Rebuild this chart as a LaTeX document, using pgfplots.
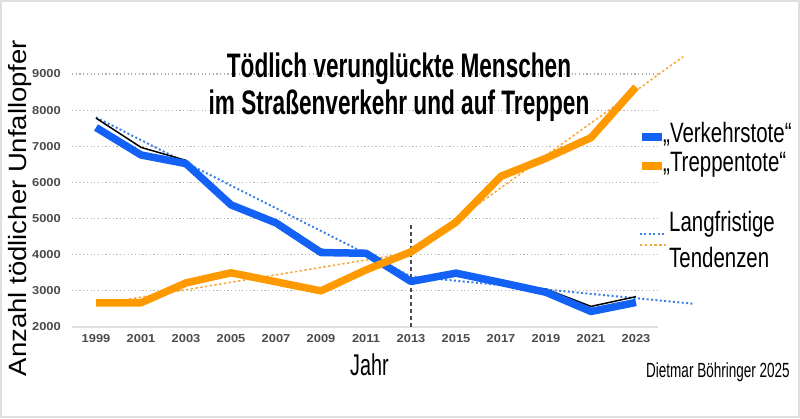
\documentclass[border=0pt]{standalone}
\usepackage{fontspec}
\setmainfont{Liberation Sans}
\newfontfamily\tickfont[FakeStretch=1.12]{Liberation Sans}
\newfontfamily\titlefont[FakeStretch=0.665]{Liberation Sans}
\newfontfamily\narrowfont[FakeStretch=0.73]{Liberation Sans}
\newfontfamily\smallnarrow[FakeStretch=0.66]{Liberation Sans}
\newfontfamily\ylabfont[FakeStretch=1.1]{Liberation Sans}
\usepackage{pgfplots}
\pgfplotsset{compat=1.18}

\definecolor{vblau}{RGB}{20,98,245}
\definecolor{torange}{RGB}{255,153,0}
\definecolor{vtrend}{RGB}{60,130,230}
\definecolor{ttrend}{RGB}{245,170,60}
\definecolor{ticktext}{RGB}{75,75,75}

\begin{document}
\begin{tikzpicture}[x=1pt,y=1pt]
\useasboundingbox (0,0) rectangle (800,418);
\draw[gray!25, line width=2pt] (1,1) rectangle (799,417);

\begin{axis}[
  at={(72pt,91pt)}, anchor=south west,
  scale only axis,
  width=586pt, height=253pt,
  xmin=1997.933, xmax=2023.978,
  ymin=2000, ymax=9000,
  clip=false,
  axis line style={draw=none},
  major tick length=0pt,
  xtick={1999,2001,...,2023},
  ytick={3000,4000,...,9000},
  extra y ticks={2000},
  extra y tick style={grid=none},
  ymajorgrids,
  grid style={gray!60, line width=1.2pt, dash pattern=on 1.2pt off 2.5pt},
  /pgf/number format/assume math mode=true,
  /pgf/number format/set thousands separator={},
  xticklabel style={font=\tickfont\bfseries\fontsize{11.5}{11.5}\selectfont, text=ticktext, anchor=center, inner sep=0pt, yshift=-12pt},
  yticklabel style={font=\tickfont\bfseries\fontsize{11.5}{11.5}\selectfont, text=ticktext, anchor=east, inner sep=0pt, xshift=-11pt},
]

% Grundlinie bei 2000
\addplot[gray!25, line width=1.3pt, forget plot] coordinates {(1997.933,2000) (2023.978,2000)};

% Trendlinien
\addplot[vtrend, line width=2pt, dash pattern=on 2pt off 2.4pt] coordinates {
(1999,7800) (2013,3400) (2025.6,2640)
};
\addplot[ttrend, line width=1.6pt, dash pattern=on 2.4pt off 2.4pt] coordinates {
(1999,2620) (2013,4060) (2025.1,9480)
};

% Markierung 2013
\addplot[black!70, line width=1.2pt, dash pattern=on 4pt off 3pt] coordinates {(2013,2000) (2013,4880)};

% tatsaechliche Werte Verkehrstote (duenn, schwarz)
\addplot[black, line width=1.5pt, line join=round] coordinates {
(1999,7780) (2001,6970) (2003,6610) (2005,5360) (2007,4950) (2009,4150)
(2011,4010) (2013,3340) (2015,3460) (2017,3180) (2019,3050) (2021,2570) (2023,2840)
};

% Verkehrstote
\addplot[vblau, line width=7.5pt, line join=round] coordinates {
(1999,7520) (2001,6760) (2003,6520) (2005,5380) (2007,4880) (2009,4060)
(2011,4040) (2013,3260) (2015,3490) (2017,3230) (2019,2960) (2021,2430) (2023,2680)
};

% Treppentote
\addplot[torange, line width=7.5pt, line join=round] coordinates {
(1999,2670) (2001,2670) (2003,3220) (2005,3500) (2007,3250) (2009,3000)
(2011,3580) (2013,4080) (2015,4900) (2017,6170) (2019,6670) (2021,7240) (2023,8640)
};
\end{axis}

% Titel
\node[anchor=base, font=\titlefont\bfseries\fontsize{34}{34}\selectfont] at (399,340) {Tödlich verunglückte Menschen};
\node[anchor=base, font=\titlefont\bfseries\fontsize{34}{34}\selectfont] at (399,303) {im Straßenverkehr und auf Treppen};

% Achsentitel
\node[anchor=base, rotate=90, font=\ylabfont\fontsize{25}{25}\selectfont] at (27,210) {Anzahl tödlicher Unfallopfer};
\node[anchor=base west, inner sep=0pt, font=\smallnarrow\fontsize{30}{30}\selectfont] at (350,43) {Jahr};
\node[anchor=base east, inner sep=0pt, font=\smallnarrow\fontsize{20.5}{20.5}\selectfont] at (790,41) {Dietmar Böhringer 2025};

% Legende
\draw[vblau, line width=8pt] (642,281) -- (662,281);
\draw[torange, line width=8pt] (642,252) -- (662,252);
\node[anchor=base west, inner sep=0pt, font=\narrowfont\fontsize{28}{28}\selectfont] at (663,275) {„Verkehrstote“};
\node[anchor=base west, inner sep=0pt, font=\narrowfont\fontsize{28}{28}\selectfont] at (663,246) {„Treppentote“};
\draw[vtrend, line width=2pt, dash pattern=on 2pt off 2.4pt] (640,184) -- (666,184);
\draw[ttrend, line width=1.6pt, dash pattern=on 2.4pt off 2.4pt] (640,173) -- (666,173);
\node[anchor=base west, inner sep=0pt, font=\narrowfont\fontsize{28}{28}\selectfont] at (669,186) {Langfristige};
\node[anchor=base west, inner sep=0pt, font=\narrowfont\fontsize{28}{28}\selectfont] at (669,150) {Tendenzen};
\end{tikzpicture}
\end{document}
